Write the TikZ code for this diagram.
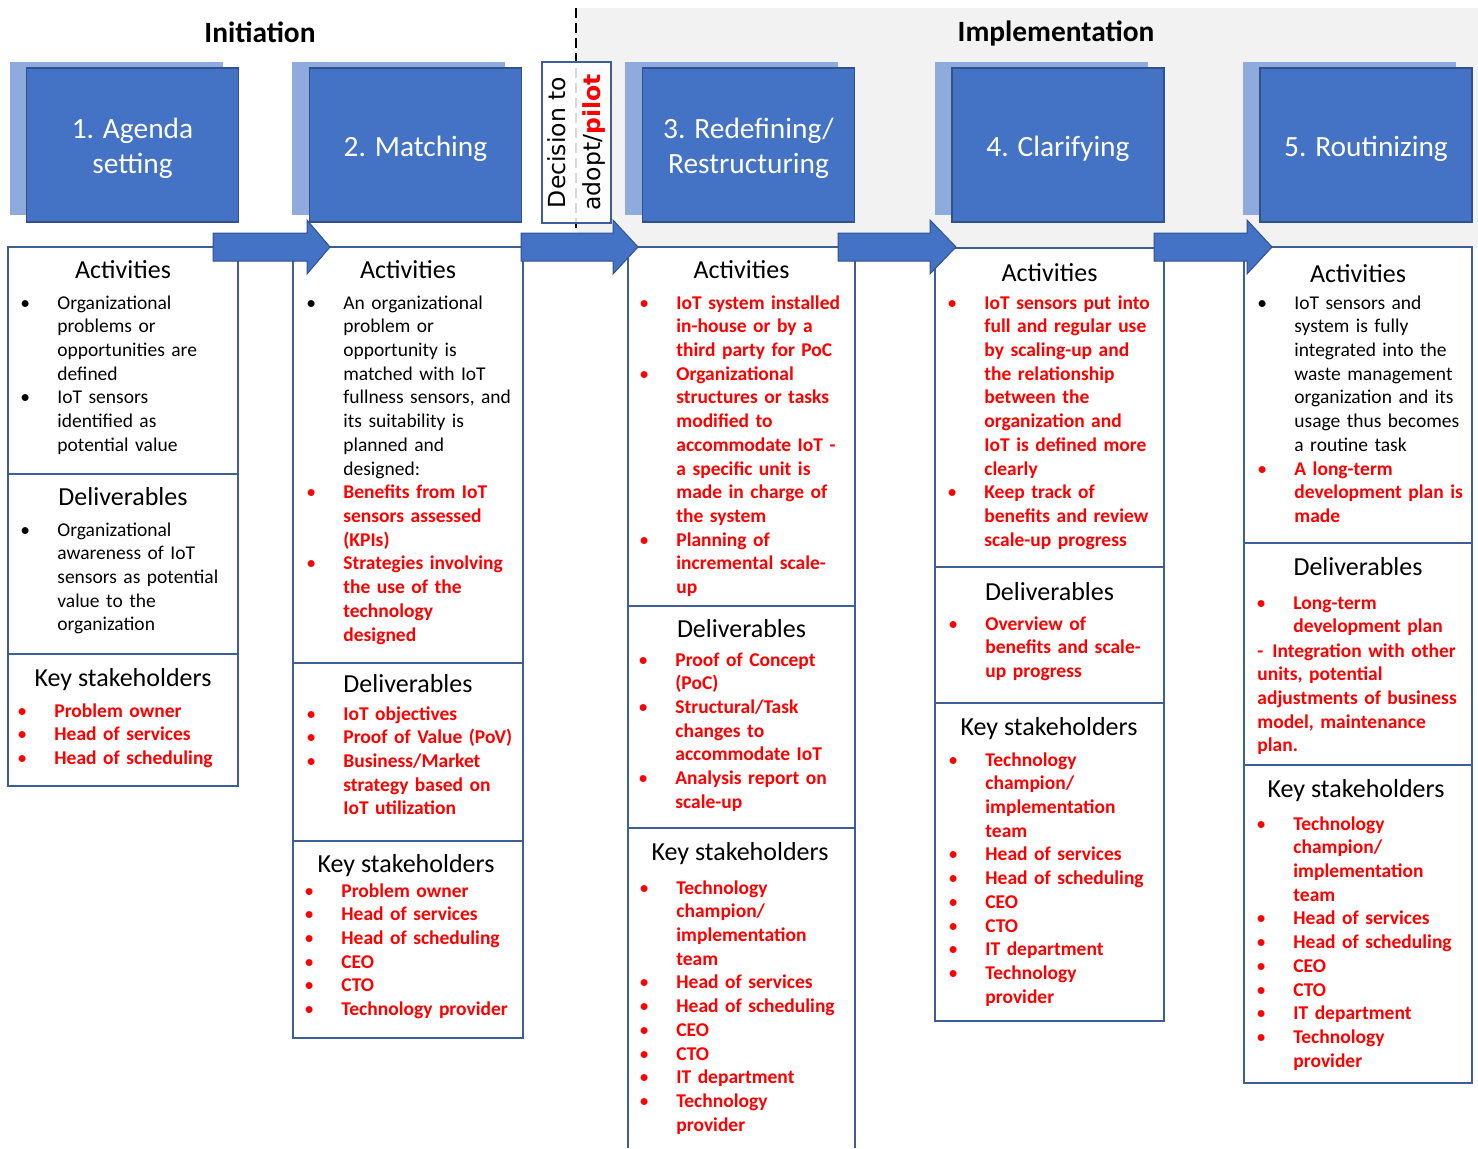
\documentclass[tikz,border=0pt]{standalone}
\usepackage{fontspec}
\setmainfont{Carlito}
\newfontfamily\decfont{DejaVu Sans}
\usetikzlibrary{calc}
\definecolor{phaseblue}{HTML}{4472C4}
\definecolor{phaseedge}{HTML}{2F528F}
\definecolor{backblue}{HTML}{8FAADC}
\definecolor{bandgrey}{HTML}{F2F2F2}
\definecolor{coledge}{HTML}{3E5E96}
\definecolor{alert}{HTML}{FF0000}
\newcommand{\bodyfont}{\fontsize{9.75pt}{11.86pt}\selectfont}
\newcommand{\headfont}{\fontsize{13pt}{15.6pt}\selectfont}
\newcommand{\bul}{\leavevmode\llap{\makebox[18.5pt][l]{\mdseries\textbullet}}}
\newcommand{\techlist}{\bul Technology\\champion/\\implementation\\team\\\bul Head of services\\\bul Head of scheduling\\\bul CEO\\\bul CTO\\\bul IT department\\\bul Technology\\provider}
\tikzset{
  band/.style={fill=bandgrey},
  backbox/.style={fill=backblue},
  phase/.style={draw=phaseedge, line width=0.6pt, fill=phaseblue, minimum width=106pt, minimum height=77pt, inner sep=0pt},
  phasetext/.style={text=white, inner sep=0pt, align=center, font=\fontsize{14.7pt}{17.6pt}\selectfont},
  title/.style={anchor=base, inner sep=0pt, font=\fontsize{14.7pt}{17.6pt}\selectfont\bfseries},
  colbox/.style={draw=coledge, line width=0.75pt, fill=white},
  colline/.style={draw=coledge, line width=0.75pt},
  head/.style={anchor=base, inner sep=0pt, font=\headfont},
  body/.style={anchor=base west, inner sep=0pt, text width=112pt, align=left, font=\bodyfont},
  alertbody/.style={body, text=alert, font=\bodyfont\bfseries},
  blockarrow/.style={fill=phaseblue, draw=phaseedge, line width=0.5pt},
  divide/.style={draw=black, line width=1.2pt, dash pattern=on 5pt off 2.5pt},
  decision/.style={draw=coledge, line width=0.75pt, fill=white, fill opacity=0.85, text opacity=1, minimum width=80.5pt, minimum height=34.5pt, inner sep=0pt, align=center, font=\decfont\fontsize{11.75pt}{17.5pt}\selectfont},
}
\newcommand{\blockarrow}[3]{\filldraw[blockarrow] (#1,233) -- (#2,233) -- (#2,220) -- (#3,247) -- (#2,274) -- (#2,261) -- (#1,261) -- cycle;}

\begin{document}
\begin{tikzpicture}[x=0.5pt,y=-0.5pt]
  \useasboundingbox (0,0) rectangle (1478,1148);
  \fill[band] (577,8) rectangle (1478,248);
  \draw[divide] (576,8) -- (576,240); % initiation | implementation

  % phase boxes
  \foreach \x in {27,309,642,952,1260}
    \fill[backbox] (\x-17,62) rectangle (\x+196,215);
  \node[phase] (p1) at (132.5,145) {};
  \node[phase] (p2) at (415.5,145) {};
  \node[phase] (p3) at (748.5,145) {};
  \node[phase] (p4) at (1058,145) {};
  \node[phase] (p5) at (1366,145) {};
  \node[phasetext] (p1t) at ($(p1)+(0,3)$) {1. Agenda\\setting};
  \node[phasetext] (p2t) at ($(p2)+(0,4)$) {2. Matching};
  \node[phasetext] (p3t) at ($(p3)+(0,3)$) {3. Redefining/\\Restructuring};
  \node[phasetext] (p4t) at ($(p4)+(0,4)$) {4. Clarifying};
  \node[phasetext] (p5t) at ($(p5)+(0,4)$) {5. Routinizing};
  \node[decision, rotate=90] (dec) at (576.5,142.5) {Decision to\\adopt/{\bfseries\color{alert}pilot}};

  \node[title] (init) at (260,42) {Initiation};
  \node[title] (impl) at (1056,41) {Implementation};

  % columns
  \filldraw[colbox] (8,247) rectangle (238,786);
  \draw[colline] (8,474) -- (238,474) (8,654) -- (238,654);
  \filldraw[colbox] (293,247) rectangle (523,1038);
  \draw[colline] (293,663) -- (523,663) (293,841) -- (523,841);
  \filldraw[colbox] (628,1148) -- (628,247) -- (855,247) -- (855,1148);
  \draw[colline] (628,606) -- (855,606) (628,828) -- (855,828);
  \filldraw[colbox] (935,248) rectangle (1164,1021);
  \draw[colline] (935,567) -- (1164,567) (935,703) -- (1164,703);
  \filldraw[colbox] (1244,247) rectangle (1472,1083);
  \draw[colline] (1244,543) -- (1472,543) (1244,765) -- (1472,765);

  \blockarrow{213}{307}{330}
  \blockarrow{521}{613}{638}
  \blockarrow{838}{930}{956}
  \blockarrow{1154}{1247}{1272}

  % column 1
  \node[head] (a1h) at (123,278) {Activities};
  \node[body] (a1b) at (57,309) {\bul Organizational\\problems or\\opportunities are\\defined\\\bul IoT sensors\\identified as\\potential value};
  \node[head] (d1h) at (123,505) {Deliverables};
  \node[body] (d1b) at (57,536) {\bul Organizational\\awareness of IoT\\sensors as potential\\value to the\\organization};
  \node[head] (k1h) at (123,686) {Key stakeholders};
  \node[alertbody] (k1b) at (54,717) {\bul Problem owner\\\bul Head of services\\\bul Head of scheduling};

  % column 2
  \node[head] (a2h) at (408,278) {Activities};
  \node[body] (a2b) at (343,309) {\bul An organizational\\problem or\\opportunity is\\matched with IoT\\fullness sensors, and\\its suitability is\\planned and\\designed:\\\color{alert}\bfseries\bul Benefits from IoT\\sensors assessed\\(KPIs)\\\bul Strategies involving\\the use of the\\technology\\designed};
  \node[head] (d2h) at (408,692) {Deliverables};
  \node[alertbody] (d2b) at (343,720) {\bul IoT objectives\\\bul Proof of Value (PoV)\\\bul Business/Market\\strategy based on\\IoT utilization};
  \node[head] (k2h) at (406,872) {Key stakeholders};
  \node[alertbody] (k2b) at (341,897) {\bul Problem owner\\\bul Head of services\\\bul Head of scheduling\\\bul CEO\\\bul CTO\\\bul Technology provider};

  % column 3
  \node[head] (a3h) at (741.5,278) {Activities};
  \node[alertbody] (a3b) at (676,309) {\bul IoT system installed\\in-house or by a\\third party for PoC\\\bul Organizational\\structures or tasks\\modified to\\accommodate IoT -\\a specific unit is\\made in charge of\\the system\\\bul Planning of\\incremental scale-\\up};
  \node[head] (d3h) at (741.5,637) {Deliverables};
  \node[alertbody] (d3b) at (675,666) {\bul Proof of Concept\\(PoC)\\\bul Structural/Task\\changes to\\accommodate IoT\\\bul Analysis report on\\scale-up};
  \node[head] (k3h) at (740,860) {Key stakeholders};
  \node[alertbody] (k3b) at (676,894) {\techlist};

  % column 4
  \node[head] (a4h) at (1049.5,281) {Activities};
  \node[alertbody] (a4b) at (984,309) {\bul IoT sensors put into\\full and regular use\\by scaling-up and\\the relationship\\between the\\organization and\\IoT is defined more\\clearly\\\bul Keep track of\\benefits and review\\scale-up progress};
  \node[head] (d4h) at (1049.5,600) {Deliverables};
  \node[alertbody] (d4b) at (985,630) {\bul Overview of\\benefits and scale-\\up progress};
  \node[head] (k4h) at (1049,735) {Key stakeholders};
  \node[alertbody] (k4b) at (985,766) {\techlist};

  % column 5
  \node[head] (a5h) at (1358,282) {Activities};
  \node[body] (a5b) at (1294,309) {\bul IoT sensors and\\system is fully\\integrated into the\\waste management\\organization and its\\usage thus becomes\\a routine task\\\color{alert}\bfseries\bul A long-term\\development plan is\\made};
  \node[head] (d5h) at (1358,575) {Deliverables};
  \node[alertbody] (d5b) at (1293,609) {\bul Long-term\\development plan};
  \node[alertbody] (d5c) at (1257,657) {-\hspace{4.5pt}Integration with other\\units, potential\\adjustments of business\\model, maintenance\\plan.};
  \node[head] (k5h) at (1356,797) {Key stakeholders};
  \node[alertbody] (k5b) at (1293,830) {\techlist};
\end{tikzpicture}
\end{document}
